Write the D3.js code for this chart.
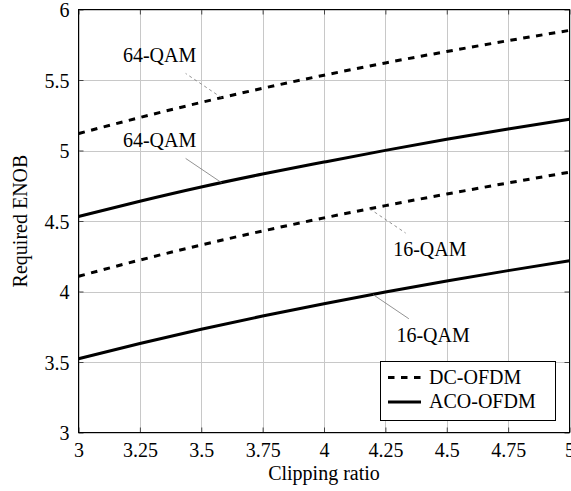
<!DOCTYPE html>
<html>
<head>
<meta charset="utf-8">
<script src="https://cdn.jsdelivr.net/npm/d3@7"></script>
<style>
  html, body { margin: 0; padding: 0; background: #fff; }
  svg { display: block; }
  text { font-family: "Liberation Serif", "Times New Roman", serif; fill: #000; }
</style>
</head>
<body>
<svg id="chart" width="571" height="491"></svg>
<script>
// ---- data ----
const clippingRatio = [3, 3.25, 3.5, 3.75, 4, 4.25, 4.5, 4.75, 5];
const dc64  = [5.120, 5.234, 5.341, 5.441, 5.534, 5.621, 5.702, 5.779, 5.852];
const aco64 = [4.532, 4.640, 4.741, 4.833, 4.918, 5.001, 5.080, 5.153, 5.222];
const dc16  = [4.108, 4.223, 4.330, 4.429, 4.522, 4.609, 4.691, 4.770, 4.846];
const aco16 = [3.523, 3.631, 3.732, 3.826, 3.913, 3.996, 4.074, 4.148, 4.218];
const xTicks = [3, 3.25, 3.5, 3.75, 4, 4.25, 4.5, 4.75, 5];
const xTickLabels = ["3", "3.25", "3.5", "3.75", "4", "4.25", "4.5", "4.75", "5"];
const yTicks = [3, 3.5, 4, 4.5, 5, 5.5, 6];
const yTickLabels = ["3", "3.5", "4", "4.5", "5", "5.5", "6"];
const seriesNames = ["DC-OFDM", "ACO-OFDM"];
const xLabel = "Clipping ratio";
const yLabel = "Required ENOB";
// annotations: label, curve, x position of pin on curve, pin direction
const pinLabels = ["64-QAM", "64-QAM", "16-QAM", "16-QAM"];
const pinCurves = ["dc64", "aco64", "dc16", "aco16"];
const pinX = [3.583, 3.583, 4.186, 4.199];
const pinDir = ["nw", "nw", "se", "se"];

// ---- layout ----
const svg = d3.select("#chart");
const L = 78.5, R = 569.5, T = 9.5, B = 432.5;
const x = d3.scaleLinear().domain([3, 5]).range([L, R]);
const y = d3.scaleLinear().domain([3, 6]).range([B, T]);

const curves = {
  dc64:  { vals: dc64,  dashed: true },
  aco64: { vals: aco64, dashed: false },
  dc16:  { vals: dc16,  dashed: true },
  aco16: { vals: aco16, dashed: false }
};

// grid
const g = svg.append("g");
g.selectAll(".gx").data(xTicks).enter().append("line")
  .attr("x1", d => Math.round(x(d)) + 0.5).attr("x2", d => Math.round(x(d)) + 0.5)
  .attr("y1", T).attr("y2", B)
  .attr("stroke", "#c8c8c8").attr("stroke-width", 1);
g.selectAll(".gy").data(yTicks).enter().append("line")
  .attr("y1", d => Math.round(y(d)) + 0.5).attr("y2", d => Math.round(y(d)) + 0.5)
  .attr("x1", L).attr("x2", R)
  .attr("stroke", "#c8c8c8").attr("stroke-width", 1);

// axes via d3 axis (inward ticks on all sides)
const tl = 5;
const axB = d3.axisBottom(x).tickValues(xTicks).tickFormat((d, i) => xTickLabels[i]).tickSizeInner(-tl).tickSizeOuter(0).tickPadding(10);
const axT = d3.axisTop(x).tickValues(xTicks).tickFormat("").tickSizeInner(-tl).tickSizeOuter(0);
const axLft = d3.axisLeft(y).tickValues(yTicks).tickFormat((d, i) => yTickLabels[i]).tickSizeInner(-tl).tickSizeOuter(0).tickPadding(9);
const axRt = d3.axisRight(y).tickValues(yTicks).tickFormat("").tickSizeInner(-tl).tickSizeOuter(0);

function styleAxis(sel) {
  sel.select(".domain").remove();
  sel.selectAll(".tick line").attr("stroke", "#444").attr("stroke-width", 1);
  sel.selectAll(".tick text").style("font-family", "'Liberation Serif', serif").style("font-size", "20px").attr("fill", "#000");
}
svg.append("g").attr("transform", `translate(0,${B})`).call(axB).call(styleAxis)
  .selectAll(".tick text").attr("dy", "0.71em");
svg.append("g").attr("transform", `translate(0,${T})`).call(axT).call(styleAxis);
svg.append("g").attr("transform", `translate(${L},0)`).call(axLft).call(styleAxis)
  .selectAll(".tick text").attr("dy", "0.35em");
svg.append("g").attr("transform", `translate(${R},0)`).call(axRt).call(styleAxis);

// frame
svg.append("rect").attr("x", L).attr("y", T).attr("width", R - L).attr("height", B - T)
  .attr("fill", "none").attr("stroke", "#000").attr("stroke-width", 1);

// curves
const line = d3.line().x((d, i) => x(clippingRatio[i])).y(d => y(d)).curve(d3.curveMonotoneX);
Object.keys(curves).forEach(k => {
  const c = curves[k];
  svg.append("path").datum(c.vals).attr("d", line)
    .attr("fill", "none").attr("stroke", "#000").attr("stroke-width", 3)
    .attr("stroke-dasharray", c.dashed ? "6.5,6.5" : null);
});

// pins
function valAt(vals, xv) {
  const i = d3.bisectRight(clippingRatio, xv) - 1;
  const i0 = Math.max(0, Math.min(i, clippingRatio.length - 2));
  const t = (xv - clippingRatio[i0]) / (clippingRatio[i0 + 1] - clippingRatio[i0]);
  return vals[i0] + t * (vals[i0 + 1] - vals[i0]);
}
pinLabels.forEach((lab, i) => {
  const c = curves[pinCurves[i]];
  const px = x(pinX[i]), py = y(valAt(c.vals, pinX[i]));
  const s = pinDir[i] === "nw" ? -1 : 1;
  const ex = px + s * 36, ey = py + s * 24.3;
  svg.append("line").attr("x1", px).attr("y1", py).attr("x2", ex).attr("y2", ey)
    .attr("stroke", "#777").attr("stroke-width", 0.8)
    .attr("stroke-dasharray", c.dashed ? "3,3" : null);
  const tx = pinDir[i] === "nw" ? ex - 26 : ex + 24.2;
  const ty = pinDir[i] === "nw" ? ey - 11.5 : ey + 22.8;
  svg.append("text").attr("x", tx).attr("y", ty).attr("text-anchor", "middle")
    .style("font-size", "20px").text(lab);
});

// legend
const lg = svg.append("g");
lg.append("rect").attr("x", 380.5).attr("y", 361.5).attr("width", 175).attr("height", 59)
  .attr("fill", "#fff").attr("stroke", "#000").attr("stroke-width", 1);
seriesNames.forEach((name, i) => {
  const yy = 377.5 + i * 24.5;
  lg.append("line").attr("x1", 388).attr("x2", 421).attr("y1", yy).attr("y2", yy)
    .attr("stroke", "#000").attr("stroke-width", 3)
    .attr("stroke-dasharray", i === 0 ? "6.5,6.5" : null);
  lg.append("text").attr("x", 429).attr("y", yy + 6.3).style("font-size", "20px").text(name);
});

// axis labels
svg.append("text").attr("x", (L + R) / 2).attr("y", 480).attr("text-anchor", "middle")
  .style("font-size", "20px").text(xLabel);
svg.append("text").attr("transform", `translate(27,${(T + B) / 2}) rotate(-90)`)
  .attr("text-anchor", "middle").style("font-size", "20px").text(yLabel);
</script>
</body>
</html>
